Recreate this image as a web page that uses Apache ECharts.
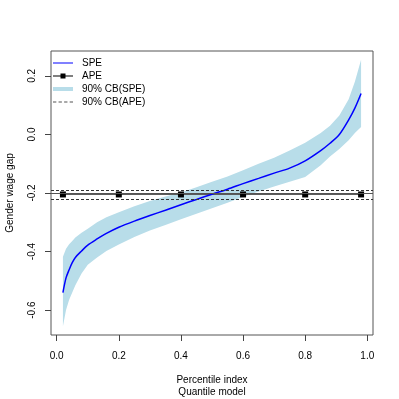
<!DOCTYPE html>
<html>
<head>
<meta charset="utf-8">
<script src="https://cdn.jsdelivr.net/npm/echarts@6/dist/echarts.min.js"></script>
<style>
  html, body { margin: 0; padding: 0; background: #fff; }
  #chart { width: 399px; height: 399px; }
</style>
</head>
<body>
<div id="chart"></div>
<script>
// percentile index of the quantile model
const taus = [0.02, 0.03, 0.04, 0.05, 0.06, 0.08, 0.10, 0.13, 0.16, 0.20, 0.25, 0.30, 0.35, 0.40,
  0.45, 0.50, 0.55, 0.60, 0.65, 0.70, 0.75, 0.80, 0.85, 0.88, 0.91, 0.94, 0.96, 0.98]
// smoothed partial effect (SPE)
const spe = [-0.540, -0.490, -0.462, -0.438, -0.420, -0.398, -0.378, -0.357, -0.338, -0.317, -0.296,
  -0.277, -0.259, -0.240, -0.222, -0.204, -0.187, -0.168, -0.150, -0.132, -0.115, -0.090, -0.055,
  -0.030, 0.000, 0.050, 0.090, 0.140]
// 90% band of SPE
const speLower = [-0.655, -0.600, -0.565, -0.540, -0.515, -0.475, -0.445, -0.420, -0.398, -0.376, -0.350,
  -0.328, -0.309, -0.290, -0.271, -0.252, -0.233, -0.213, -0.195, -0.178, -0.162, -0.145, -0.105,
  -0.075, -0.050, -0.020, 0.005, 0.025]
const speUpper = [-0.418, -0.390, -0.375, -0.364, -0.352, -0.336, -0.322, -0.300, -0.283, -0.266, -0.245,
  -0.227, -0.212, -0.198, -0.180, -0.162, -0.144, -0.122, -0.100, -0.080, -0.055, -0.028, 0.005,
  0.030, 0.065, 0.120, 0.180, 0.255]
// average partial effect (APE) and its band
const apeX = [0.02, 0.2, 0.4, 0.6, 0.8, 0.98]
const apeValue = -0.205
const apeBand = [-0.193, -0.219]
// tick labels
const xTicks = [0, 0.2, 0.4, 0.6, 0.8, 1.0]
const yTicks = [-0.6, -0.4, -0.2, 0.0, 0.2]

const font = "'Liberation Sans', Arial, Helvetica, sans-serif"
const bandColor = '#B8DDE9'
const chart = echarts.init(document.getElementById('chart'))

// legend icons drawn as flat paths so no circle shows up
const thinLine = 'path://M0,0H20V1H0Z'
const thickLine = 'path://M0,0H20V4H0Z'
const dashLine = 'path://M0,0H3V1H0ZM5,0H8V1H5ZM10,0H13V1H10ZM15,0H18V1H15Z'
const lineSquare = 'path://M0,3.5H7.5V1.5H12.5V3.5H20V4.5H12.5V6.5H7.5V4.5H0Z'

const options = {
  animation: false,
  textStyle: { fontFamily: font, color: '#000' },
  grid: {
    left: 51,
    right: 26,
    top: 51,
    bottom: 64,
    outerBoundsMode: 'none',
    containLabel: false,
    show: true,
    borderColor: '#555',
    borderWidth: 1
  },
  legend: {
    orient: 'vertical',
    left: 53,
    top: 58,
    padding: 0,
    itemWidth: 20,
    itemHeight: 8,
    itemGap: 3,
    textStyle: { fontSize: 10, color: '#000', fontFamily: font, padding: [0, 0, 0, 4] },
    data: [
      { name: 'SPE', icon: thinLine },
      { name: 'APE', icon: lineSquare },
      { name: '90% CB(SPE)', icon: thickLine },
      { name: '90% CB(APE)', icon: dashLine }
    ]
  },
  xAxis: {
    type: 'value',
    min: -0.0184,
    max: 1.0184,
    name: 'Percentile index\nQuantile model',
    nameLocation: 'middle',
    nameGap: 39,
    nameTextStyle: { fontSize: 10, color: '#000', fontFamily: font, lineHeight: 12 },
    axisLine: { show: false, onZero: false },
    splitLine: { show: false },
    axisTick: { show: true, length: 6, customValues: xTicks, lineStyle: { color: '#444' } },
    axisLabel: {
      customValues: xTicks,
      margin: 16,
      fontSize: 10,
      color: '#000',
      formatter: (v) => v.toFixed(1)
    }
  },
  yAxis: {
    type: 'value',
    min: -0.685,
    max: 0.285,
    name: 'Gender wage gap',
    nameLocation: 'middle',
    nameGap: 36,
    nameTextStyle: { fontSize: 10, color: '#000', fontFamily: font },
    axisLine: { show: false, onZero: false },
    splitLine: { show: false },
    axisTick: { show: true, length: 6, customValues: yTicks, lineStyle: { color: '#444' } },
    axisLabel: {
      customValues: yTicks,
      rotate: 90,
      margin: 14,
      fontSize: 10,
      color: '#000',
      formatter: (v) => v.toFixed(1)
    }
  },
  series: [
    {
      name: 'band',
      type: 'custom',
      silent: true,
      data: [[0.5, -0.2]],
      renderItem: (params, api) => {
        const top = taus.map((t, i) => api.coord([t, speUpper[i]]))
        const bottom = taus.map((t, i) => api.coord([t, speLower[i]])).reverse()
        return {
          type: 'polygon',
          shape: { points: top.concat(bottom) },
          style: { fill: bandColor }
        }
      }
    },
    {
      name: '90% CB(SPE)',
      type: 'line',
      data: [],
      symbol: 'none',
      itemStyle: { color: bandColor },
      lineStyle: { color: bandColor, width: 4 }
    },
    {
      name: 'APE',
      type: 'line',
      data: apeX.map((x) => [x, apeValue]),
      symbol: 'rect',
      symbolSize: 6,
      itemStyle: { color: '#000' },
      lineStyle: { color: '#555', width: 1 },
      markLine: {
        silent: true,
        symbol: 'none',
        label: { show: false },
        lineStyle: { color: '#555', width: 1, type: 'solid' },
        data: [
          { yAxis: apeValue },
          ...apeBand.map((v) => ({ yAxis: v, lineStyle: { color: '#333', width: 1, type: [3, 2] } }))
        ]
      }
    },
    {
      name: '90% CB(APE)',
      type: 'line',
      data: [],
      symbol: 'none',
      itemStyle: { color: '#555' },
      lineStyle: { color: '#555', width: 1, type: [3, 2] }
    },
    {
      name: 'SPE',
      type: 'line',
      data: taus.map((t, i) => [t, spe[i]]),
      symbol: 'none',
      smooth: 0.3,
      itemStyle: { color: '#0000FF' },
      lineStyle: { color: '#0000FF', width: 1.5 }
    }
  ]
}
chart.setOption(options)
</script>
</body>
</html>
